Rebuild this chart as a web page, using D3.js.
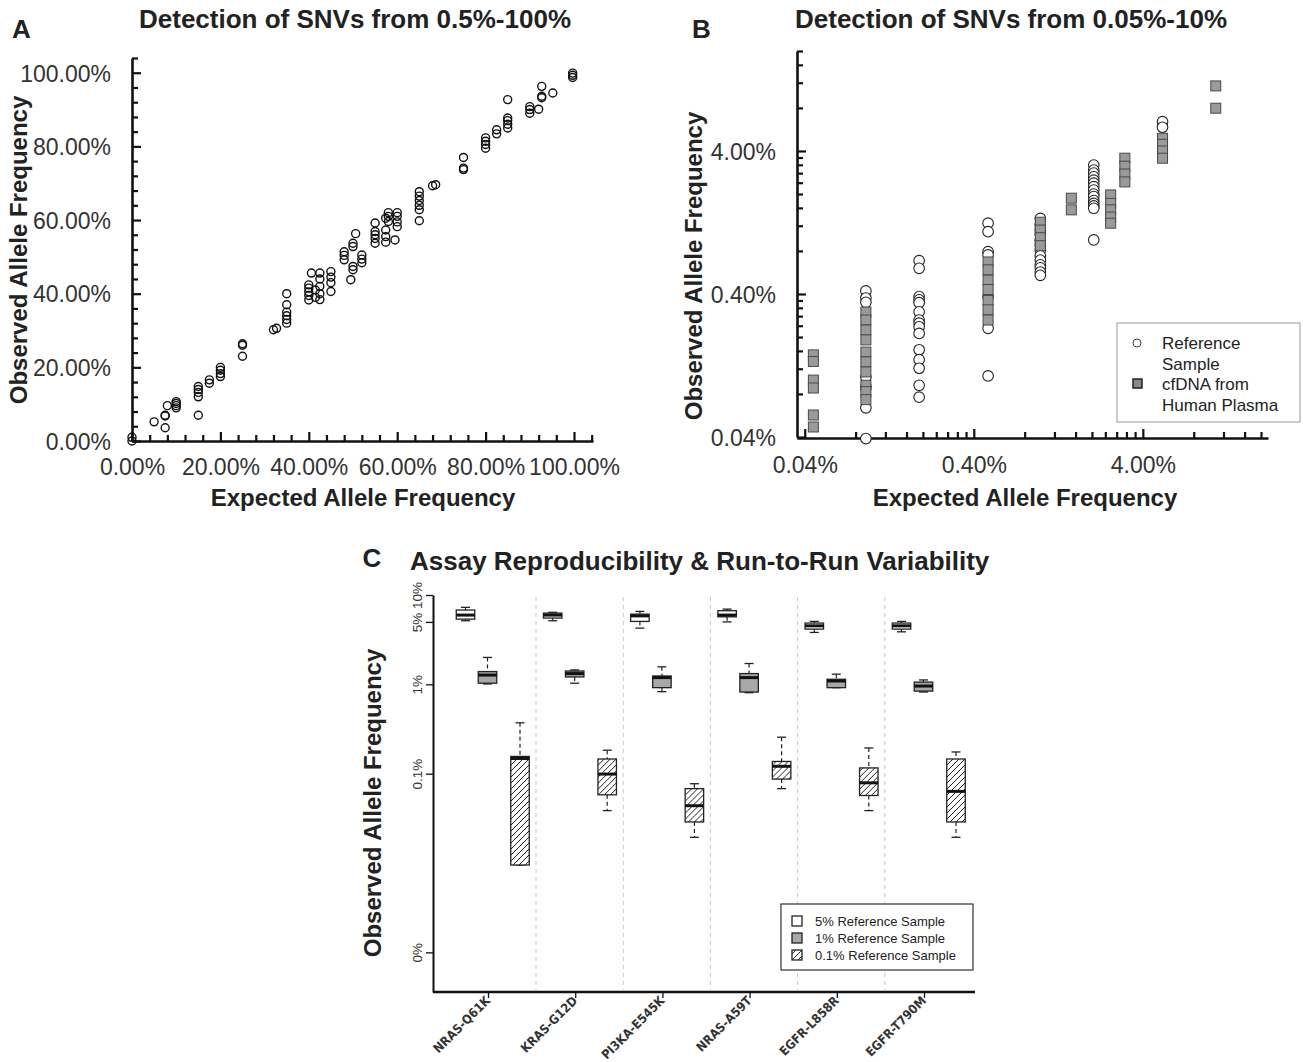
<!DOCTYPE html>
<head>
  <meta charset="utf-8">
  <style>
    body { margin: 0; background: #fff; }
    svg text { font-family: "Liberation Sans", Arial, sans-serif; fill: #222; }
    .tick text { fill: #333; }
    .narrow { font-family: "Liberation Sans Narrow", "DejaVu Sans Condensed", sans-serif !important; }
  </style>
</head>
<body>
<script src="https://cdn.jsdelivr.net/npm/d3@7"></script>
<script>
// ---------------- data (all values in %) ----------------
// Panel A: expected vs observed allele frequency
const aExpected = [0, 0, 5, 7.5, 7.5, 7.5, 8, 10, 10, 10, 10, 15, 15, 15, 15, 15, 17.5, 17.5, 20, 20, 20, 20,
  25, 25, 25, 32, 32.7, 35, 35, 35, 35, 35, 35, 40, 40, 40, 40, 40, 40.6, 41.5, 41.5, 42.5, 42.5, 42.5, 42.5, 42.5,
  45, 45, 45, 45, 48, 48, 48, 49.5, 50, 50, 50, 50, 50.6, 52, 52, 52, 55, 55, 55, 55, 55, 57.4, 57.4, 57.4, 57.4,
  58, 58, 58, 59.5, 60, 60, 60, 60, 65, 65, 65, 65, 65, 65, 68, 68.7, 75, 75, 75, 80, 80, 80, 80, 82.5, 82.5,
  85, 85, 85, 85, 85, 90, 90, 90, 92, 92.7, 92.7, 92.7, 95.2, 99.7, 99.7, 99.7];
const aObserved = [0, 1, 5.2, 6.8, 7.0, 3.6, 9.6, 9.0, 9.6, 10.2, 10.7, 12.0, 13.2, 14.0, 14.8, 7.0, 15.7, 16.6, 17.5, 18.3, 19.2, 20.0,
  26.0, 26.4, 23.0, 30.2, 30.6, 40.0, 37.0, 35.0, 34.0, 33.0, 32.0, 38.3, 39.5, 40.5, 41.5, 42.4, 45.6, 39, 41, 38.4, 40, 42, 44, 45.6,
  43, 44.5, 46, 40.6, 49.2, 50.4, 51.4, 43.8, 52.8, 53.7, 46.5, 47.4, 56.3, 48.4, 49.4, 50.5, 59.2, 53.7, 55, 56, 56.9, 60.5, 54, 55.5, 57.3,
  59.6, 61, 62, 54.6, 58.2, 59.5, 61, 62, 62.8, 64, 65.3, 66.5, 67.7, 59.8, 69.3, 69.6, 77, 73.7, 74.1, 79.5, 80.5, 81.4, 82.3, 83.4, 84.5,
  92.7, 85, 86, 87, 87.7, 89, 90, 90.8, 90.1, 96.3, 93.2, 93.6, 94.5, 98.7, 99.9, 99.3];

// Panel B: reference sample (circles) and cfDNA from human plasma (squares)
const bRefExpected = [0.092, 0.092, 0.092, 0.092, 0.092, 0.092, 0.092,
  0.19, 0.19, 0.19, 0.19, 0.19, 0.19, 0.19, 0.19, 0.19, 0.19, 0.19, 0.19, 0.19, 0.19, 0.19,
  0.486, 0.486, 0.486, 0.486, 0.486, 0.486, 0.486,
  0.99, 0.99, 0.99, 0.99, 0.99, 0.99, 0.99, 0.99, 0.99, 0.99, 0.99, 0.99, 0.99,
  2.05, 2.05, 2.05, 2.05, 2.05, 2.05, 2.05, 2.05, 2.05, 2.05, 2.05, 2.05, 2.05, 2.05, 2.05,
  5.23, 5.23];
const bRefObserved = [0.42, 0.375, 0.35, 0.105, 0.09, 0.064, 0.039,
  0.684, 0.605, 0.384, 0.364, 0.348, 0.30, 0.263, 0.25, 0.236, 0.212, 0.163, 0.139, 0.121, 0.092, 0.076,
  1.25, 1.09, 0.79, 0.75, 0.384, 0.23, 0.107,
  1.35, 1.22, 1.12, 1.05, 0.95, 0.88, 0.81, 0.74, 0.69, 0.64, 0.61, 0.57, 0.54,
  3.19, 2.94, 2.8, 2.64, 2.5, 2.38, 2.25, 2.13, 2.0, 1.92, 1.8, 1.72, 1.65, 1.59, 0.955,
  6.41, 5.86];
const bPlasmaExpected = [0.045, 0.045, 0.045, 0.045, 0.045, 0.045,
  0.092, 0.092, 0.092, 0.092, 0.092, 0.092, 0.092, 0.092, 0.092, 0.092,
  0.486, 0.486, 0.486, 0.486, 0.486, 0.486, 0.486,
  0.99, 0.99, 0.99, 0.99, 1.51, 1.51,
  2.58, 2.58, 2.58, 2.58, 2.58, 3.13, 3.13, 3.13, 3.13,
  5.23, 5.23, 5.23, 5.23, 10.8, 10.8];
const bPlasmaObserved = [0.15, 0.135, 0.10, 0.088, 0.057, 0.047,
  0.299, 0.263, 0.224, 0.191, 0.157, 0.134, 0.114, 0.092, 0.083, 0.073,
  0.67, 0.59, 0.50, 0.43, 0.36, 0.31, 0.263,
  1.27, 1.12, 0.99, 0.87, 1.87, 1.55,
  1.97, 1.72, 1.55, 1.38, 1.25, 3.56, 3.13, 2.76, 2.43,
  4.91, 4.45, 4.0, 3.56, 11.4, 7.96];

// Panel C: box stats per mutation [low whisker, q1, median, q3, high whisker]
const mutations = ["NRAS-Q61K", "KRAS-G12D", "PI3KA-E545K", "NRAS-A59T", "EGFR-L858R", "EGFR-T790M"];
const samples = ["5% Reference Sample", "1% Reference Sample", "0.1% Reference Sample"];
const box5 = [
  [5.15, 5.37, 5.96, 6.79, 7.27],
  [5.15, 5.52, 5.96, 6.27, 6.4],
  [4.26, 5.06, 5.84, 6.11, 6.55],
  [5.0, 5.7, 5.96, 6.67, 6.95],
  [3.81, 4.15, 4.52, 4.85, 5.06],
  [3.87, 4.15, 4.52, 4.85, 5.06]
];
const box1 = [
  [1.01, 1.03, 1.27, 1.39, 2.0],
  [1.03, 1.21, 1.32, 1.41, 1.45],
  [0.828, 0.918, 1.19, 1.24, 1.57],
  [0.806, 0.82, 1.19, 1.32, 1.71],
  [0.918, 0.918, 1.09, 1.14, 1.30],
  [0.82, 0.84, 0.957, 1.06, 1.12]
];
const box01 = [
  [0.0095, 0.0095, 0.148, 0.156, 0.371],
  [0.0386, 0.058, 0.099, 0.146, 0.183],
  [0.0194, 0.0288, 0.0438, 0.068, 0.0772],
  [0.068, 0.087, 0.121, 0.137, 0.256],
  [0.0386, 0.057, 0.079, 0.116, 0.194],
  [0.0194, 0.0288, 0.0634, 0.146, 0.175]
];
const cTickValues = [10, 5, 1, 0.1, 0.001];
const cTickLabels = ["10%", "5%", "1%", "0.1%", "0%"];

// ---------------- svg ----------------
const svg = d3.select("body").append("svg").attr("width", 1303).attr("height", 1062);

const defs = svg.append("defs");
const hatch = defs.append("pattern").attr("id", "hatch")
  .attr("patternUnits", "userSpaceOnUse").attr("width", 6).attr("height", 6);
hatch.append("rect").attr("width", 6).attr("height", 6).attr("fill", "#fff");
hatch.append("path").attr("d", "M0,6 L6,0 M-1,1 L1,-1 M5,7 L7,5")
  .attr("stroke", "#222").attr("stroke-width", 1);

function styleAxis(g, size, majors, majorLen, dir) {
  g.attr("font-size", size).attr("font-family", null);
  g.select(".domain").attr("stroke", "#111").attr("stroke-width", 2.6);
  g.selectAll(".tick line").attr("stroke", "#111").attr("stroke-width", 2.2);
  if (majors) {
    g.selectAll(".tick line").filter(d => majors.includes(d)).attr(dir, majorLen);
  }
}

function label(x, y, txt, size, rot, anchor) {
  const t = svg.append("text").attr("font-size", size).attr("font-weight", "bold")
    .attr("text-anchor", anchor || "middle").text(txt);
  if (rot) t.attr("transform", `translate(${x},${y}) rotate(${rot})`);
  else t.attr("x", x).attr("y", y);
  return t;
}

// ---------------- Panel A ----------------
const xA = d3.scaleLinear().domain([0, 104.3]).range([132, 593]);
const yA = d3.scaleLinear().domain([0, 104]).range([441, 58]);
const ticksA = d3.range(0, 105, 4);
const majorsA = [0, 20, 40, 60, 80, 100];
const fmtA = v => majorsA.includes(v) ? v.toFixed(2) + "%" : "";

svg.append("g").attr("transform", "translate(0,441)")
  .call(d3.axisBottom(xA).tickValues(ticksA).tickFormat(fmtA).tickSize(-6).tickSizeOuter(0).tickPadding(18))
  .call(g => styleAxis(g, 23, majorsA, -9, "y2"));
svg.append("g").attr("transform", "translate(132,0)")
  .call(d3.axisLeft(yA).tickValues(ticksA).tickFormat(fmtA).tickSize(-6).tickSizeOuter(0).tickPadding(21))
  .call(g => styleAxis(g, 23, majorsA, 9, "x2"))
  .call(g => g.selectAll(".tick text").attr("dy", "0.36em"));

svg.append("g").selectAll("circle")
  .data(aExpected.map((x, i) => ({ x: x, y: aObserved[i] })))
  .join("circle")
  .attr("cx", d => xA(d.x)).attr("cy", d => yA(d.y)).attr("r", 4)
  .attr("fill", "none").attr("stroke", "#111").attr("stroke-width", 1.4);

label(12, 38, "A", 26, 0, "start");
label(355, 28, "Detection of SNVs from 0.5%-100%", 26);
label(363, 506, "Expected Allele Frequency", 24);
label(27, 250, "Observed  Allele Frequency", 24, -90);

// ---------------- Panel B ----------------
const xB = d3.scaleLog().domain([0.036, 22]).range([797, 1268]);
const yB = d3.scaleLog().domain([0.04, 20]).range([437, 51]);
const majorsB = [0.04, 0.4, 4];
const ticksB = Array.from(new Set(majorsB.flatMap(b => d3.range(1, 11).map(k => +(b * k).toPrecision(3)))))
  .filter(v => v <= 20);
const fmtB = v => majorsB.includes(v) ? v.toFixed(2) + "%" : "";

svg.append("g").attr("transform", "translate(0,438)")
  .call(d3.axisBottom(xB).tickValues(ticksB).tickFormat(fmtB).tickSize(-6).tickSizeOuter(0).tickPadding(19))
  .call(g => styleAxis(g, 23, majorsB, -9, "y2"));
svg.append("g").attr("transform", "translate(797,0)")
  .call(d3.axisLeft(yB).tickValues(ticksB).tickFormat(fmtB).tickSize(-6).tickSizeOuter(0).tickPadding(21))
  .call(g => styleAxis(g, 23, majorsB, 9, "x2"))
  .call(g => g.selectAll(".tick text").attr("dy", "0.36em"));

svg.append("g").selectAll("circle")
  .data(bRefExpected.map((x, i) => ({ x: x, y: bRefObserved[i] })))
  .join("circle")
  .attr("cx", d => xB(d.x)).attr("cy", d => yB(d.y)).attr("r", 5.3)
  .attr("fill", "#fff").attr("stroke", "#222").attr("stroke-width", 1.1);
svg.append("g").selectAll("rect")
  .data(bPlasmaExpected.map((x, i) => ({ x: x, y: bPlasmaObserved[i] })))
  .join("rect")
  .attr("x", d => xB(d.x) - 5).attr("y", d => yB(d.y) - 5).attr("width", 10).attr("height", 10)
  .attr("fill", "#9a9a9a").attr("stroke", "#4a4a4a").attr("stroke-width", 1);

const legB = svg.append("g");
legB.append("rect").attr("x", 1117).attr("y", 323).attr("width", 183).attr("height", 99)
  .attr("fill", "#fff").attr("stroke", "#999").attr("stroke-width", 1);
legB.append("circle").attr("cx", 1137).attr("cy", 343).attr("r", 4)
  .attr("fill", "#fff").attr("stroke", "#444");
legB.append("rect").attr("x", 1133).attr("y", 379).attr("width", 9).attr("height", 9)
  .attr("fill", "#888").attr("stroke", "#222").attr("stroke-width", 1.5);
["Reference", "Sample", "cfDNA from", "Human Plasma"].forEach((t, i) => {
  legB.append("text").attr("x", 1162).attr("y", 349 + i * 20.5).attr("font-size", 17)
    .attr("fill", "#333").text(t);
});

label(692, 38, "B", 26, 0, "start");
label(795, 28, "Detection of SNVs from 0.05%-10%", 26, 0, "start");
label(1025, 506, "Expected Allele Frequency", 24);
label(702, 266, "Observed Allele Frequency", 24, -90);

// ---------------- Panel C ----------------
const yC = d3.scaleLog().domain([0.00036, 10]).range([992, 595]);
const xC = d3.scalePoint().domain(mutations).range([488, 924]);
const subOffset = d3.scaleOrdinal().domain(samples).range([-22.5, -0.5, 32]);
const subFill = d3.scaleOrdinal().domain(samples).range(["#fff", "#a8a8a8", "url(#hatch)"]);
const boxW = 18.5;

// dashed dividers between mutations
svg.append("g").selectAll("line")
  .data(mutations.slice(0, -1))
  .join("line")
  .attr("x1", d => xC(d) + 48).attr("x2", d => xC(d) + 48)
  .attr("y1", 597).attr("y2", 990)
  .attr("stroke", "#c8c8c8").attr("stroke-width", 1).attr("stroke-dasharray", "4,4");

const yAxC = svg.append("g").attr("transform", "translate(433,0)")
  .call(d3.axisLeft(yC).tickValues(cTickValues).tickFormat((d, i) => cTickLabels[i]).tickSize(7).tickSizeOuter(0))
  .call(g => styleAxis(g, 13.5, null));
yAxC.select(".domain").attr("stroke-width", 2);
yAxC.selectAll(".tick line").attr("stroke-width", 1.3);
yAxC.selectAll(".tick text")
  .attr("transform", "rotate(-90)").attr("text-anchor", "middle")
  .attr("x", 0).attr("y", -11).attr("dy", 0);

const xAxC = svg.append("g").attr("transform", "translate(0,992)")
  .call(d3.axisBottom(xC).tickSize(6).tickSizeOuter(0))
  .call(g => styleAxis(g, 12.6, null));
xAxC.select(".domain").remove();
xAxC.append("line").attr("x1", 433).attr("x2", 975).attr("stroke", "#111").attr("stroke-width", 2.4);
xAxC.selectAll(".tick line").attr("stroke-width", 1.3);
xAxC.selectAll(".tick text")
  .attr("class", "narrow").attr("font-weight", "bold").attr("fill", "#222")
  .attr("transform", "rotate(-45)").attr("text-anchor", "end")
  .attr("x", -5).attr("y", 4).attr("dy", "0.35em");

const boxData = [];
[box5, box1, box01].forEach((arr, s) => {
  arr.forEach((st, m) => boxData.push({ m: mutations[m], s: samples[s], st: st }));
});

const boxes = svg.append("g").selectAll("g").data(boxData).join("g")
  .attr("transform", d => `translate(${xC(d.m) + subOffset(d.s)},0)`);
// whiskers
boxes.append("line").attr("x1", 0).attr("x2", 0)
  .attr("y1", d => yC(d.st[4])).attr("y2", d => yC(d.st[3]))
  .attr("stroke", "#222").attr("stroke-width", 1.2).attr("stroke-dasharray", "4,3");
boxes.append("line").attr("x1", 0).attr("x2", 0)
  .attr("y1", d => yC(d.st[1])).attr("y2", d => yC(d.st[0]))
  .attr("stroke", "#222").attr("stroke-width", 1.2).attr("stroke-dasharray", "4,3");
boxes.append("line").attr("x1", -4.5).attr("x2", 4.5)
  .attr("y1", d => yC(d.st[4])).attr("y2", d => yC(d.st[4]))
  .attr("stroke", "#222").attr("stroke-width", 1.3);
boxes.append("line").attr("x1", -4.5).attr("x2", 4.5)
  .attr("y1", d => yC(d.st[0])).attr("y2", d => yC(d.st[0]))
  .attr("stroke", "#222").attr("stroke-width", 1.3);
// box body
boxes.append("rect").attr("x", -boxW / 2).attr("width", boxW)
  .attr("y", d => yC(d.st[3])).attr("height", d => Math.max(1, yC(d.st[1]) - yC(d.st[3])))
  .attr("fill", d => subFill(d.s)).attr("stroke", "#222").attr("stroke-width", 1.3);
// median
boxes.append("line").attr("x1", -boxW / 2).attr("x2", boxW / 2)
  .attr("y1", d => yC(d.st[2])).attr("y2", d => yC(d.st[2]))
  .attr("stroke", "#111").attr("stroke-width", 3);

// legend C
const legC = svg.append("g");
legC.append("rect").attr("x", 781).attr("y", 904).attr("width", 192).attr("height", 66)
  .attr("fill", "#fff").attr("stroke", "#333").attr("stroke-width", 1.2);
samples.forEach((s, i) => {
  legC.append("rect").attr("x", 792).attr("y", 916 + i * 17).attr("width", 10).attr("height", 10)
    .attr("fill", subFill(s)).attr("stroke", "#222").attr("stroke-width", 1.3);
  legC.append("text").attr("x", 815).attr("y", 926 + i * 17).attr("font-size", 13)
    .attr("fill", "#333").text(s);
});

label(372, 567, "C", 26, 0, "middle");
label(410, 570, "Assay Reproducibility & Run-to-Run Variability", 26, 0, "start");
label(381, 803, "Observed Allele Frequency", 24, -90);
</script>
</body>
